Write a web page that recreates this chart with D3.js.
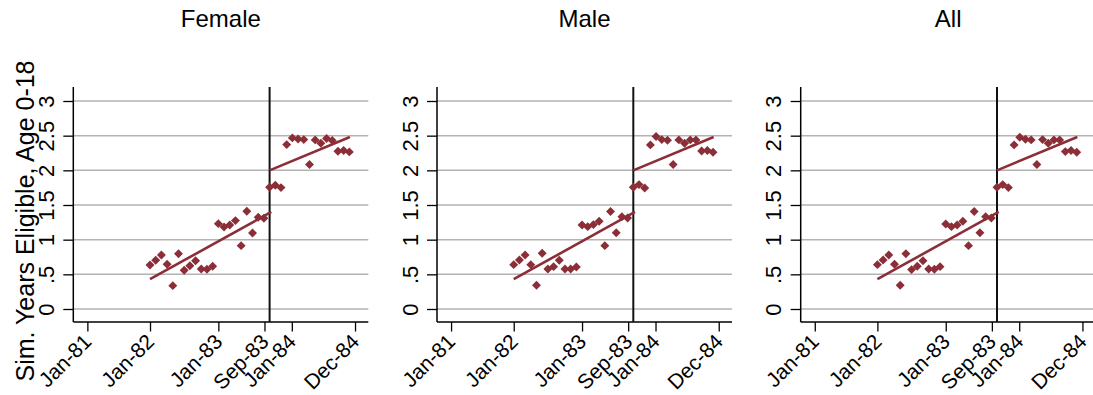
<!DOCTYPE html>
<html>
<head>
<meta charset="utf-8">
<script src="https://cdn.jsdelivr.net/npm/d3@7"></script>
<style>
  body { margin: 0; background: #fff; }
  svg { display: block; font-family: "Liberation Sans", Arial, Helvetica, sans-serif; }
</style>
</head>
<body>
<svg id="chart" width="1093" height="395"></svg>
<script>
// birth month, counted from Jan-81 = 0
var birthMonth = [12, 13, 14, 15, 16, 17, 18, 19, 20, 21, 22, 23,
                  24, 25, 26, 27, 28, 29, 30, 31, 32, 33, 34, 35,
                  36, 37, 38, 39, 40, 41, 42, 43, 44, 45, 46, 47];

var female = [0.635, 0.702, 0.779, 0.645, 0.337, 0.798, 0.558, 0.625, 0.697, 0.577, 0.572, 0.616,
              1.231, 1.183, 1.212, 1.275, 0.914, 1.409, 1.097, 1.323, 1.308, 1.756, 1.785, 1.751,
              2.371, 2.468, 2.453, 2.443, 2.083, 2.439, 2.391, 2.458, 2.429, 2.275, 2.285, 2.266];

var male = [0.640, 0.707, 0.779, 0.640, 0.342, 0.803, 0.577, 0.611, 0.702, 0.577, 0.577, 0.606,
            1.212, 1.188, 1.217, 1.265, 0.914, 1.405, 1.101, 1.332, 1.313, 1.756, 1.794, 1.746,
            2.367, 2.487, 2.443, 2.434, 2.083, 2.439, 2.391, 2.439, 2.439, 2.280, 2.285, 2.261];

var all = [0.640, 0.707, 0.779, 0.645, 0.342, 0.798, 0.568, 0.616, 0.697, 0.577, 0.572, 0.611,
           1.227, 1.188, 1.212, 1.265, 0.914, 1.405, 1.101, 1.332, 1.313, 1.756, 1.794, 1.751,
           2.367, 2.477, 2.448, 2.439, 2.083, 2.443, 2.391, 2.439, 2.439, 2.270, 2.285, 2.261];

// linear fits either side of the cutoff: [month, value] pairs
var femaleFit = [[[12, 0.43], [33.3, 1.40]], [[33, 2.00], [47.1, 2.48]]];
var maleFit   = [[[12, 0.43], [33.3, 1.40]], [[33, 2.00], [47.1, 2.48]]];
var allFit    = [[[12, 0.43], [33.3, 1.40]], [[33, 2.00], [47.1, 2.48]]];

var cutoff = 33;

var panelTitles = ["Female", "Male", "All"];
var yTicks = [0, 0.5, 1, 1.5, 2, 2.5, 3];
var xTickValues = [1, 12, 24, 32.1, 36.9, 48];
var xTickLabels = ["Jan-81", "Jan-82", "Jan-83", "Sep-83", "Jan-84", "Dec-84"];

var panels = [
  {title: panelTitles[0], values: female, fit: femaleFit},
  {title: panelTitles[1], values: male, fit: maleFit},
  {title: panelTitles[2], values: all, fit: allFit}
];

var svg = d3.select("#chart"),
    left0 = 73.3,
    panelStep = 363.7,
    plotW = 295,
    plotTop = 87,
    axisY = 322,
    markerColor = "#8c2e38";

var x = d3.scaleLinear().domain([-1.47, 50.33]).range([0, plotW]);
var y = d3.scaleLinear().domain([0, 3]).range([309, 101]);

function fmtY (d) {
  return d === 0 ? "0" : String(d).replace(/^0/, "");
}

panels.forEach(function (p, i) {
  var g = svg.append("g").attr("transform", "translate(" + (left0 + i * panelStep) + ",0)");

  // title
  g.append("text")
      .attr("x", plotW / 2)
      .attr("y", 27)
      .attr("text-anchor", "middle")
      .style("font-size", "24px")
      .text(p.title);

  // gridlines
  g.selectAll("line.grid")
      .data(yTicks)
      .enter()
      .append("line")
      .attr("class", "grid")
      .attr("x1", 0).attr("x2", plotW)
      .attr("y1", function (d) { return y(d); })
      .attr("y2", function (d) { return y(d); })
      .attr("stroke", "#b3b3b3")
      .attr("stroke-width", 1.5);

  // y axis
  var ya = g.append("g")
      .call(d3.axisLeft(y).tickValues(yTicks).tickFormat(fmtY).tickSize(10).tickSizeOuter(0));
  ya.attr("font-size", null).attr("font-family", null);
  ya.select(".domain").remove();
  ya.selectAll(".tick line").attr("stroke", "#000").attr("stroke-width", 1.3);
  ya.selectAll(".tick text")
      .attr("x", null).attr("dy", null)
      .attr("text-anchor", "middle")
      .attr("transform", "translate(-19.5,0) rotate(-90)")
      .style("font-size", "22px")
      .attr("fill", "#000");

  // x axis
  var xa = g.append("g")
      .attr("transform", "translate(0," + axisY + ")")
      .call(d3.axisBottom(x).tickValues(xTickValues)
        .tickFormat(function (d, j) { return xTickLabels[j]; })
        .tickSize(9.5).tickSizeOuter(0));
  xa.attr("font-size", null).attr("font-family", null);
  xa.select(".domain").remove();
  xa.selectAll(".tick line").attr("stroke", "#000").attr("stroke-width", 1.3);
  xa.selectAll(".tick text")
      .attr("x", null).attr("y", null).attr("dy", null)
      .attr("text-anchor", "end")
      .attr("transform", "translate(5,21) rotate(-45)")
      .style("font-size", "21px")
      .attr("fill", "#000");

  // axis lines
  g.append("line")
      .attr("x1", 0).attr("x2", 0)
      .attr("y1", plotTop).attr("y2", axisY)
      .attr("stroke", "#000").attr("stroke-width", 1.5);
  g.append("line")
      .attr("x1", 0).attr("x2", plotW)
      .attr("y1", axisY).attr("y2", axisY)
      .attr("stroke", "#000").attr("stroke-width", 1.5);

  // cutoff line
  g.append("line")
      .attr("x1", x(cutoff)).attr("x2", x(cutoff))
      .attr("y1", plotTop).attr("y2", axisY)
      .attr("stroke", "#111").attr("stroke-width", 2);

  // markers
  g.selectAll("path.pt")
      .data(p.values)
      .enter()
      .append("path")
      .attr("class", "pt")
      .attr("d", d3.symbol(d3.symbolSquare, 40))
      .attr("transform", function (d, j) {
        return "translate(" + x(birthMonth[j]) + "," + y(d) + ") rotate(45)";
      })
      .attr("fill", markerColor);

  // fit lines
  var line = d3.line()
      .x(function (d) { return x(d[0]); })
      .y(function (d) { return y(d[1]); });
  g.selectAll("path.fit")
      .data(p.fit)
      .enter()
      .append("path")
      .attr("class", "fit")
      .attr("d", line)
      .attr("fill", "none")
      .attr("stroke", markerColor)
      .attr("stroke-width", 2.6);
});

// y axis title
svg.append("text")
    .attr("transform", "translate(34,221) rotate(-90)")
    .attr("text-anchor", "middle")
    .style("font-size", "25px")
    .text("Sim. Years Eligible, Age 0-18");
</script>
</body>
</html>
